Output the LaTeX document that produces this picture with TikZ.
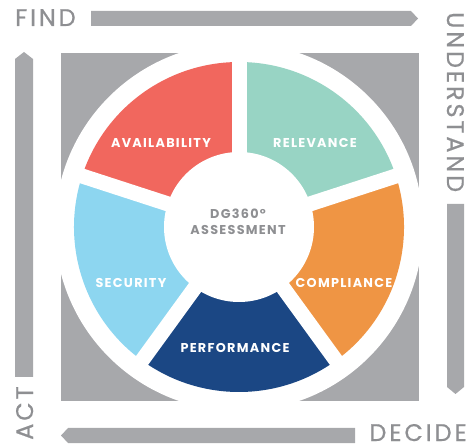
\documentclass[tikz,border=0pt]{standalone}
\usepackage{fontspec}
\setmainfont{Poppins}
\usetikzlibrary{calc}
\definecolor{bggray}{HTML}{A7A8AB}
\definecolor{txtgray}{HTML}{8E8F92}
\definecolor{segred}{HTML}{F1675E}
\definecolor{segteal}{HTML}{98D4C4}
\definecolor{segblue}{HTML}{8DD6F0}
\definecolor{segorange}{HTML}{EF9544}
\definecolor{segnavy}{HTML}{1B4784}
\tikzset{
  outerlabel/.style={text=txtgray, inner sep=0pt, font=\fontsize{24}{24}\selectfont\addfontfeatures{LetterSpace=12,FakeBold=0.6}},
  seglabel/.style={text=white, inner sep=0pt, font=\fontsize{12.8}{13}\selectfont\bfseries\addfontfeatures{LetterSpace=10}},
  centerlabel/.style={text=txtgray, inner sep=0pt, align=center, font=\fontsize{12.8}{16}\selectfont\bfseries\addfontfeatures{LetterSpace=10}},
  gap/.style={white, line width=15pt},
  bar/.style={fill=bggray}
}
\begin{document}
\begin{tikzpicture}[x=1pt,y=1pt]
\useasboundingbox (0,0) rectangle (468,444);
% gray square
\fill[bggray] (61,43) rectangle (419,391);
\coordinate (C) at (239,217);
\begin{scope}
  \clip (61,43) rectangle (419,391);
  \fill[white] (C) circle (184);
\end{scope}
% segments
\def\Rout{165}
\fill[segteal]   (C) -- ++(18:\Rout) arc[start angle=18, end angle=90, radius=\Rout] -- cycle;
\fill[segred]    (C) -- ++(90:\Rout) arc[start angle=90, end angle=162, radius=\Rout] -- cycle;
\fill[segblue]   (C) -- ++(162:\Rout) arc[start angle=162, end angle=234, radius=\Rout] -- cycle;
\fill[segnavy]   (C) -- ++(234:\Rout) arc[start angle=234, end angle=306, radius=\Rout] -- cycle;
\fill[segorange] (C) -- ++(306:\Rout) arc[start angle=306, end angle=378, radius=\Rout] -- cycle;
\foreach \a in {18,90,162,234,306} \draw[gap] (C) -- ++(\a:\Rout+3);
\fill[white] (C) circle (75);
% labels
\node[centerlabel] (center) at (238,222) {DG360°\\ASSESSMENT};
\node[seglabel] (avail) at (161,301) {AVAILABILITY};
\node[seglabel] (relev) at (315,301) {RELEVANCE};
\node[seglabel] (secur) at (131,161) {SECURITY};
\node[seglabel] (compl) at (344,161) {COMPLIANCE};
\node[seglabel] (perf) at (235,96) {PERFORMANCE};
% arrows
\fill[bar] (91,433) -- (411,433) -- (418,425.5) -- (411,418) -- (91,418) -- cycle;
\fill[bar] (447,240) -- (464,240) -- (464,57) -- (455.5,50) -- (447,57) -- cycle;
\fill[bar] (355,16) -- (68,16) -- (61,8.5) -- (68,1) -- (355,1) -- cycle;
\fill[bar] (15,67) -- (33,67) -- (33,385) -- (24,392) -- (15,385) -- cycle;
% words
\node[outerlabel, anchor=base west] (find) at (15,418) {FIND};
\node[outerlabel, anchor=base west, rotate=-90] (understand) at (447,432) {UNDERSTAND};
\node[outerlabel, anchor=base east] (decide) at (467,3) {DECIDE};
\node[outerlabel, anchor=base west, rotate=90] (act) at (33,4) {ACT};
\end{tikzpicture}
\end{document}
